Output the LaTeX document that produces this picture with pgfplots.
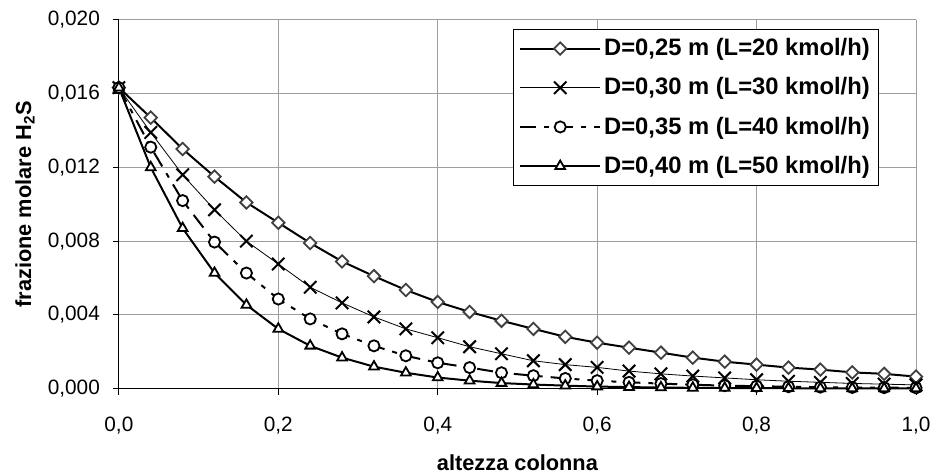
\documentclass[border=0pt]{standalone}
\usepackage{fontspec}
\setmainfont{Liberation Sans}
\usepackage{pgfplots}
\usepackage{pgfplotstable}
\pgfplotsset{compat=1.18}

% altezza colonna vs frazione molare H2S, quattro diametri
\pgfplotstableread{
x    a        b        c        d
0.00 0.01633  0.01633  0.01633  0.01633
0.04 0.0147   0.0139   0.0131   0.0120
0.08 0.0130   0.0116   0.0102   0.0087
0.12 0.0115   0.0097   0.00795  0.00627
0.16 0.0101   0.0080   0.00627  0.00454
0.20 0.0090   0.00676  0.00486  0.00324
0.24 0.0079   0.0055   0.00378  0.00232
0.28 0.0069   0.00465  0.00297  0.00168
0.32 0.0061   0.00389  0.00232  0.00119
0.36 0.00535  0.00324  0.00178  0.00086
0.40 0.0047   0.00276  0.0014   0.0006
0.44 0.00416  0.00227  0.00114  0.00043
0.48 0.00368  0.00189  0.00086  0.0003
0.52 0.00324  0.00151  0.0007   0.00022
0.56 0.00281  0.0013   0.00055  0.00016
0.60 0.00249  0.00115  0.00043  0.00011
0.64 0.00222  0.00095  0.00034  0.00008
0.68 0.00195  0.0008   0.00027  0.00006
0.72 0.00168  0.00068  0.00021  0.00004
0.76 0.00146  0.00058  0.00016  0.00003
0.80 0.0013   0.00048  0.00013  0.00002
0.84 0.00114  0.0004   0.0001   0.00002
0.88 0.00103  0.00034  0.00008  0.00001
0.92 0.00088  0.00028  0.00006  0.00001
0.96 0.0008   0.00024  0.00005  0.00001
1.00 0.00065  0.0002   0.00004  0.00001
}\dati

\begin{document}
\begin{tikzpicture}
\begin{axis}[
    scale only axis,
    width=399pt, height=184.5pt,
    xmin=0, xmax=1, ymin=0, ymax=0.02,
    xtick={0,0.2,0.4,0.6,0.8,1},
    ytick={0,0.004,0.008,0.012,0.016,0.020},
    scaled y ticks=false,
    axis lines=left,
    axis line style={-, black, line width=0.6pt},
    grid=major,
    major grid style={black!38, line width=0.5pt},
    tick align=outside,
    major tick length=3pt,
    tick style={black, line width=0.5pt},
    clip=false,
    x tick label style={/pgf/number format/.cd, fixed, fixed zerofill, precision=1, use comma, assume math mode=true, /tikz/.cd, font=\fontsize{10.4}{12}\selectfont, yshift=-7.5pt},
    y tick label style={/pgf/number format/.cd, fixed, fixed zerofill, precision=3, use comma, assume math mode=true, /tikz/.cd, font=\fontsize{10.4}{12}\selectfont, xshift=-3pt},
    xlabel={altezza colonna},
    ylabel={frazione molare H\textsubscript{2}S},
    xlabel style={at={([yshift=-37pt]axis description cs:0.5,0)}, anchor=center, font=\bfseries\fontsize{10.9}{13}\selectfont},
    ylabel style={at={([xshift=-47pt]axis description cs:0,0.5)}, anchor=center, font=\bfseries\fontsize{10.9}{13}\selectfont},
    legend image code/.code={\draw[mark repeat=2, mark phase=2, #1] plot coordinates {(0pt,0pt) (20pt,0pt) (40pt,0pt)};},
    legend cell align=left,
    legend style={at={(0.954,0.976)}, anchor=north east, draw=black, line width=0.6pt, fill=white,
        font=\bfseries\fontsize{11.9}{14}\selectfont, inner xsep=3pt, inner ysep=3pt,
        row sep=6.5pt, nodes={inner sep=1.5pt}},
]
\addplot[black, line width=1pt, mark=square*, mark size=2.2pt,
    mark options={solid, rotate=45, fill=white, draw=black!75, line width=0.9pt}]
    table[x=x, y=a] {\dati};
\addplot[black, line width=0.4pt, mark=x, mark size=4.4pt,
    mark options={solid, line width=1pt}]
    table[x=x, y=b] {\dati};
\addplot[black, line width=1pt, dash pattern=on 8pt off 4pt on 2.5pt off 4pt, mark=*, mark size=2.8pt,
    mark options={solid, fill=white, line width=0.9pt}]
    table[x=x, y=c] {\dati};
\addplot[black, line width=1pt, mark=triangle*, mark size=2.8pt,
    mark options={solid, fill=white, line width=0.9pt}]
    table[x=x, y=d] {\dati};
\legend{{D=0,25 m (L=20 kmol/h)}, {D=0,30 m (L=30 kmol/h)}, {D=0,35 m (L=40 kmol/h)}, {D=0,40 m (L=50 kmol/h)}}
\end{axis}
\pgfresetboundingbox
\path (-59.5pt,-42pt) rectangle (409.5pt,194.5pt);
\end{tikzpicture}
\end{document}
